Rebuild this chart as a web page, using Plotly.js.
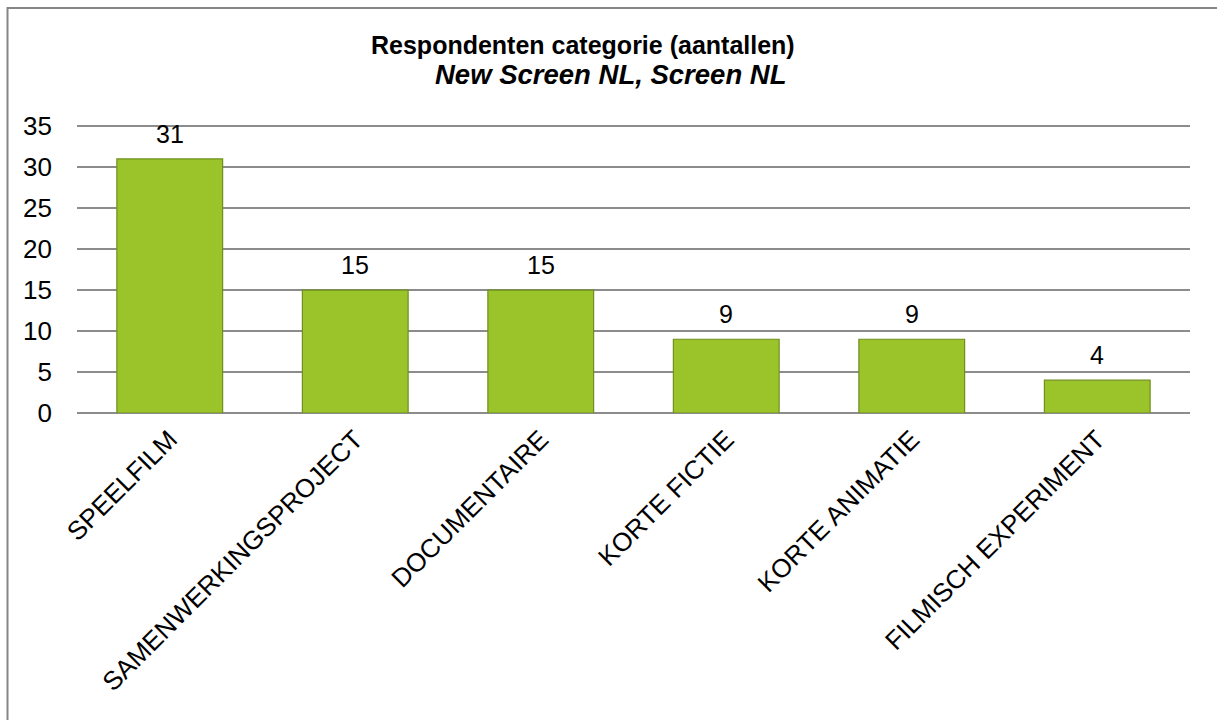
<!DOCTYPE html>
<html>
<head>
<meta charset="utf-8">
<script src="https://cdn.plot.ly/plotly-3.0.1.min.js"></script>
<style>
html,body{margin:0;padding:0;background:#fff;}
#chart{width:1217px;height:720px;}
</style>
</head>
<body>
<div id="chart"></div>
<script>
const categories = ["SPEELFILM", "SAMENWERKINGSPROJECT", "DOCUMENTAIRE", "KORTE FICTIE", "KORTE ANIMATIE", "FILMISCH EXPERIMENT"];
const counts = [31, 15, 15, 9, 9, 4];
const yTicks = [0, 5, 10, 15, 20, 25, 30, 35];

const W = 1217, H = 720;
const L = 77, R = 27, T = 122, B = 307;
const pw = W - L - R, ph = H - T - B;
const FONT = "Liberation Sans, Arial, sans-serif";

const trace = {
  type: "bar",
  x: categories,
  y: counts,
  width: 0.57,
  marker: {
    color: "#9BC42B",
    line: {color: "#6F8F1C", width: 1.2}
  },
  hoverinfo: "x+y"
};

const annotations = categories.map((c, i) => ({
  x: c, y: counts[i], xref: "x", yref: "y",
  text: String(counts[i]), showarrow: false,
  yanchor: "bottom", yshift: 9,
  font: {family: FONT, size: 25, color: "#000"}
}));

annotations.push({
  xref: "paper", yref: "paper",
  x: (583 - L) / pw, y: (H - B - 45) / ph,
  xanchor: "center", yanchor: "middle",
  text: "<b>Respondenten categorie (aantallen)</b>",
  showarrow: false,
  font: {family: FONT, size: 25, color: "#000"}
});
annotations.push({
  xref: "paper", yref: "paper",
  x: (611 - L) / pw, y: (H - B - 75) / ph,
  xanchor: "center", yanchor: "middle",
  text: "<b><i>New Screen NL, Screen NL</i></b>",
  showarrow: false,
  font: {family: FONT, size: 27.5, color: "#000"}
});

const layout = {
  width: W, height: H,
  margin: {l: L, r: R, t: T, b: B, pad: 0},
  paper_bgcolor: "#fff",
  plot_bgcolor: "#fff",
  showlegend: false,
  font: {family: FONT, size: 26, color: "#000"},
  xaxis: {
    type: "category",
    tickangle: -45,
    showgrid: false,
    showline: false,
    zeroline: false,
    ticks: "",
    ticklabelstandoff: 5,
    tickfont: {size: 26, color: "#000"},
    automargin: false
  },
  yaxis: {
    range: [0, 35.5],
    tickvals: yTicks,
    ticktext: yTicks.map(String),
    showgrid: true,
    gridcolor: "#8C8C8C",
    gridwidth: 1.3,
    zeroline: true,
    zerolinecolor: "#8C8C8C",
    zerolinewidth: 1.3,
    showline: false,
    ticks: "",
    ticklabelstandoff: 24,
    tickfont: {size: 26, color: "#000"},
    automargin: false
  },
  annotations: annotations,
  shapes: [{
    type: "rect", xref: "paper", yref: "paper",
    x0: (7.5 - L) / pw, x1: (W + 30 - L) / pw,
    y0: (H - B - (H + 30)) / ph, y1: (H - B - 8) / ph,
    line: {color: "#868686", width: 2},
    fillcolor: "rgba(0,0,0,0)",
    layer: "below"
  }]
};

Plotly.newPlot("chart", [trace], layout, {displayModeBar: false, staticPlot: true});
</script>
</body>
</html>
